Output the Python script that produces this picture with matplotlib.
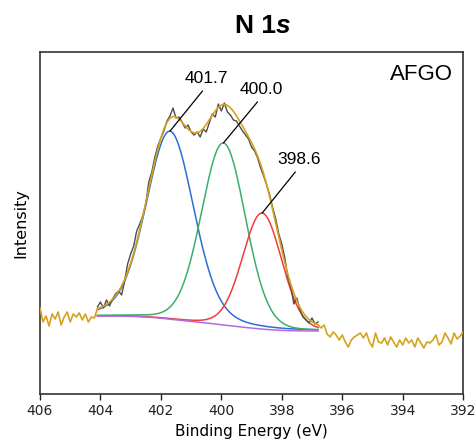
import numpy as np
import matplotlib
matplotlib.use('Agg')
import matplotlib.pyplot as plt

# N 1s spectrum of AFGO, raw counts (arb. units), 0.1 eV steps
raw_left = [86, 72, 78, 68, 80, 75, 82, 69, 77, 82,
            72, 80, 77, 81, 74, 80, 72, 77, 76]            # 406.0 -> 404.2
raw_mid = [87, 92, 86, 94, 88, 95, 100, 103, 99, 113,
           130, 140, 148, 163, 170, 178, 190, 212, 222, 237,
           248, 256, 263, 273, 278, 286, 276, 277, 272, 266,
           269, 262, 259, 262, 257, 265, 262, 271, 280, 277,
           290, 283, 291, 282, 279, 274, 273, 268, 263, 259,
           255, 247, 243, 236, 226, 218, 209, 199, 186, 175,
           160, 150, 136, 117, 107, 90, 96, 84, 77, 74,
           71, 76, 70, 72]                                 # 404.1 -> 396.8 (fit window)
raw_right = [66, 69, 60, 57, 62, 59, 54, 59, 52, 47,
             54, 57, 59, 61, 56, 61, 52, 47, 61, 52,
             51, 56, 49, 57, 52, 47, 54, 49, 56, 51,
             54, 47, 56, 51, 46, 52, 51, 54, 59, 49,
             52, 61, 56, 50, 61, 55, 58, 62]               # 396.7 -> 392.0

# fitted components
peak_labels = ['401.7', '400.0', '398.6']
peak_centers = [401.7, 399.93, 398.65]
peak_heights = [188, 182, 116]
peak_sigmas = [0.79, 0.73, 0.65]
peak_lfrac = [0.2, 0.1, 0.1]
peak_colors = ['#2b6fd6', '#3aaf6a', '#f03c3c']
fit_hi, fit_lo = 404.1, 396.8
bg_hi, bg_lo = 78, 63

energy = np.arange(4060, 3919, -1) / 10.0
intensity = np.array(raw_left + raw_mid + raw_right, dtype=float)


def gl(e, c, h, s, frac):
    g = np.exp(-(e - c) ** 2 / (2 * s * s))
    hw = s * np.sqrt(2 * np.log(2))
    l = 1.0 / (1 + ((e - c) / hw) ** 2)
    return h * ((1 - frac) * g + frac * l)


e_fit = np.linspace(fit_hi, fit_lo, 500)
comps = [gl(e_fit, c, h, s, f) for c, h, s, f in
         zip(peak_centers, peak_heights, peak_sigmas, peak_lfrac)]
total = np.sum(comps, axis=0)
# shirley type background
area = np.cumsum(total[::-1])[::-1]
bg = bg_lo + (bg_hi - bg_lo) * area / area[0]
envelope = bg + total

left = energy > fit_hi + 1e-6
right = energy < fit_lo - 1e-6
mid = ~left & ~right

plt.rcParams['font.family'] = ['Liberation Sans', 'DejaVu Sans']

W, H = 476, 446
fig = plt.figure(figsize=(W / 100, H / 100), dpi=100)
ax = fig.add_axes([0.084, 0.1166, 0.889, 0.7668])

for comp, col in zip(comps, peak_colors):
    ax.plot(e_fit, bg + comp, color=col, lw=1.1, zorder=3)
ax.plot(e_fit, bg, color='#b56be0', lw=1.1, zorder=3.5)
ax.plot(energy[mid], intensity[mid], color='#4d4d4d', lw=1.0, zorder=4)

ox = np.concatenate([energy[left], e_fit, energy[right]])
oy = np.concatenate([intensity[left], envelope, intensity[right]])
ax.plot(ox, oy, color='#d6a11e', lw=1.2, zorder=5)

# peak labels
label_pos = [(400.49, 311), (398.67, 300), (397.42, 230)]
for lab, c, comp, (tx, ty) in zip(peak_labels, peak_centers, comps, label_pos):
    top = (bg + comp).max()
    ax.annotate(lab, xy=(c, top), xytext=(tx, ty), ha='center', va='baseline',
                fontsize=12.5, zorder=6,
                arrowprops=dict(arrowstyle='-', color='k', lw=0.9,
                                relpos=(0.5, 0), shrinkA=2, shrinkB=0))

ax.text(0.976, 0.965, 'AFGO', transform=ax.transAxes, ha='right', va='top', fontsize=16)

ax.set_xlim(406, 392)
ax.set_ylim(0, 342)
ax.set_xticks(np.arange(406, 391, -2))
ax.set_yticks([])
ax.tick_params(axis='x', direction='out', length=4, width=1, colors='#222222', labelsize=10)
for t in ax.get_xticklabels():
    t.set_fontfamily('DejaVu Sans')
for sp in ax.spines.values():
    sp.set_color('#333333')
    sp.set_linewidth(1.2)

ax.set_xlabel('Binding Energy (eV)', fontsize=11, family='DejaVu Sans', labelpad=4)
ax.set_ylabel('Intensity', fontsize=11.5, family='DejaVu Sans', labelpad=8)

# title "N 1s" with italic s, built from two pieces
t1 = fig.text(0, 0.926, 'N 1', fontsize=19, fontweight='bold', va='baseline')
t2 = fig.text(0, 0.926, 's', fontsize=19, fontweight='bold', fontstyle='italic', va='baseline')
r = fig.canvas.get_renderer()
w1 = t1.get_window_extent(r).width
w2 = t2.get_window_extent(r).width
x0 = 263 - (w1 + w2) / 2
t1.set_x(x0 / W)
t2.set_x((x0 + w1) / W)

fig.savefig('out.png', dpi=100)
